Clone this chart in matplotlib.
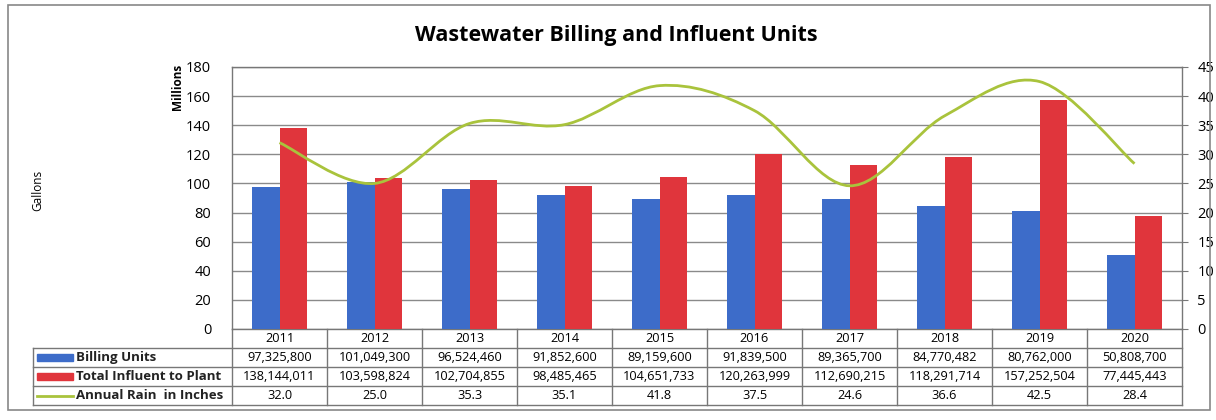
import matplotlib
matplotlib.use('Agg')
import matplotlib.pyplot as plt
from matplotlib.path import Path
from matplotlib.patches import PathPatch, Rectangle
import matplotlib.transforms as mtransforms

plt.rcParams['font.family'] = ['Open Sans', 'DejaVu Sans']

years = ['2011', '2012', '2013', '2014', '2015', '2016', '2017', '2018', '2019', '2020']
billing = [97325800, 101049300, 96524460, 91852600, 89159600,
           91839500, 89365700, 84770482, 80762000, 50808700]
influent = [138144011, 103598824, 102704855, 98485465, 104651733,
            120263999, 112690215, 118291714, 157252504, 77445443]
rain = [32.0, 25.0, 35.3, 35.1, 41.8, 37.5, 24.6, 36.6, 42.5, 28.4]

series_names = ['Billing Units', 'Total Influent to Plant', 'Annual Rain  in Inches']
blue = '#3D6CC9'
red = '#E0353C'
green = '#A9C33C'
grid_c = '#8a8a8a'

fig = plt.figure(figsize=(12.16, 4.2), dpi=100)
ax = fig.add_axes([232 / 1216, 1 - 329 / 420, 950 / 1216, 262 / 420])

x = list(range(len(years)))
w = 0.29
ax.bar([i - w / 2 for i in x], [b / 1e6 for b in billing], width=w, color=blue, zorder=3)
ax.bar([i + w / 2 for i in x], [v / 1e6 for v in influent], width=w, color=red, zorder=3)
ax.set_xlim(-0.5, len(years) - 0.5)
ax.set_ylim(0, 180)
ax.set_yticks(range(0, 181, 20))
ax.yaxis.grid(True, color=grid_c, linewidth=1.0, zorder=0)
ax.set_xticks([])
ax.tick_params(axis='y', length=0, pad=15, labelsize=10.5)
for s in ax.spines.values():
    s.set_color('#777777')
    s.set_linewidth(1.0)

# secondary axis, smoothed rain line (bezier through data points)
ax2 = ax.twinx()
ax2.set_ylim(0, 45)
ax2.set_yticks(range(0, 46, 5))
ax2.tick_params(axis='y', length=4, color='#777777', pad=7, labelsize=10.5)
for s in ax2.spines.values():
    s.set_visible(False)
pts = list(zip(x, rain))
verts = [pts[0]]
codes = [Path.MOVETO]
n = len(pts)
for i in range(n - 1):
    p0 = pts[max(i - 1, 0)]
    p1 = pts[i]
    p2 = pts[i + 1]
    p3 = pts[min(i + 2, n - 1)]
    c1 = (p1[0] + (p2[0] - p0[0]) / 6, p1[1] + (p2[1] - p0[1]) / 6)
    c2 = (p2[0] - (p3[0] - p1[0]) / 6, p2[1] - (p3[1] - p1[1]) / 6)
    verts += [c1, c2, p2]
    codes += [Path.CURVE4] * 3
ax2.add_patch(PathPatch(Path(verts, codes), facecolor='none', edgecolor=green,
                        linewidth=2.0, zorder=4))

# titles and axis labels
fig.text(616 / 1216, 1 - 36 / 420, 'Wastewater Billing and Influent Units',
         ha='center', va='center', fontsize=15.5, fontweight='bold')
fig.text(177 / 1216, 1 - 87 / 420, 'Millions', rotation=90, ha='center',
         va='center', fontsize=8.5, fontweight='bold')
fig.text(38 / 1216, 1 - 190 / 420, 'Gallons', rotation=90, ha='center',
         va='center', fontsize=8.5)

# data table under the plot
tr = mtransforms.blended_transform_factory(ax.transData, ax.transAxes)
rh = 19 / 262
left = -(232 - 33) / 950
line_kw = dict(color='#777777', linewidth=1.0, clip_on=False)

for k in range(len(years) + 1):
    ax.plot([k - 0.5, k - 0.5], [0, -4 * rh], transform=tr, **line_kw)
for r in range(1, 5):
    ax.plot([left, 1], [-r * rh, -r * rh], transform=ax.transAxes, **line_kw)
ax.plot([left, left], [-rh, -4 * rh], transform=ax.transAxes, **line_kw)

rows = [[f'{v:,}' for v in billing],
        [f'{v:,}' for v in influent],
        [f'{v:.1f}' for v in rain]]
for i, yr in enumerate(years):
    ax.text(i, -0.5 * rh, yr, transform=tr, ha='center', va='center', fontsize=9.2)
    for r, row in enumerate(rows):
        ax.text(i, -(r + 1.5) * rh, row[i], transform=tr, ha='center',
                va='center', fontsize=9.2)

sw_x0 = left + 4 / 950
sw_w = 36 / 950
for r, name in enumerate(series_names):
    yc = -(r + 1.5) * rh
    if r < 2:
        ax.add_patch(Rectangle((sw_x0, yc - 3.5 / 262), sw_w, 7 / 262,
                               transform=ax.transAxes, color=[blue, red][r],
                               clip_on=False))
    else:
        ax.plot([sw_x0, sw_x0 + sw_w], [yc, yc], transform=ax.transAxes,
                color=green, linewidth=2.0, clip_on=False)
    ax.text(sw_x0 + sw_w + 3 / 950, yc, name, transform=ax.transAxes,
            ha='left', va='center', fontsize=9.5, fontweight='bold', color='#222222')

# outer chart frame
fig.add_artist(Rectangle((8 / 1216, 1 - 410 / 420), 1202 / 1216, 405 / 420,
                         transform=fig.transFigure, fill=False,
                         edgecolor='#888888', linewidth=1.2))

fig.savefig('out.png', dpi=100)
